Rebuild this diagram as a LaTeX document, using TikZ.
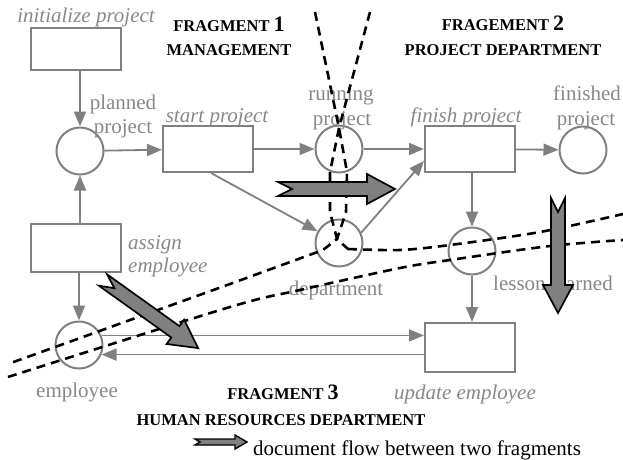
\documentclass[tikz,border=0pt]{standalone}
\usepackage{fontspec}
\setmainfont{Liberation Serif}
\usetikzlibrary{arrows.meta,calc}
\definecolor{linegray}{RGB}{128,128,128}
\definecolor{textgray}{RGB}{136,136,136}
\definecolor{arrowfill}{RGB}{128,128,128}
\newcommand\fragarrow[3]{%
  \begin{scope}[shift={(#1)},rotate=#2]
    \draw[blockarrow] (0,-7) -- (#3-28,-7) -- (#3-28,-15) -- (#3,0) -- (#3-28,15) -- (#3-28,7) -- (0,7) -- (14,0) -- cycle;
  \end{scope}}
\tikzset{
  place/.style={circle,draw=linegray,line width=2pt,minimum size=47pt,inner sep=0pt},
  trans/.style={rectangle,draw=linegray,line width=2pt,minimum width=90pt,inner sep=0pt},
  flow/.style={draw=linegray,line width=1.8pt,-{Triangle[length=15pt,width=12pt]}},
  lbl/.style={text=textgray,inner sep=0pt,anchor=base,font=\fontsize{21}{24}\selectfont},
  ttl/.style={text=black,inner sep=0pt,anchor=base,font=\fontsize{16.5}{18}\selectfont\bfseries},
  fragline/.style={draw=black,line width=2.6pt,dash pattern=on 9pt off 6pt},
  blockarrow/.style={draw=black,line width=1.7pt,fill=arrowfill,line join=miter},
}
\begin{document}
\begin{tikzpicture}[x=1pt,y=-1pt]
\useasboundingbox (0,0) rectangle (623,459);

% transitions
\node[trans,minimum height=42pt] (init) at (76,49) {};
\node[trans,minimum height=46pt] (start) at (208,149) {};
\node[trans,minimum height=46pt] (fin) at (470,149) {};
\node[trans,minimum height=48pt] (asg) at (76,248) {};
\node[trans,minimum height=49pt] (upd) at (470,347.5) {};

% places
\node[place] (plan) at (80,151) {};
\node[place] (run) at (339,149) {};
\node[place] (fdone) at (583,150) {};
\node[place] (dept) at (339,243) {};
\node[place] (les) at (472,251) {};
\node[place] (emp) at (79,345) {};

% labels
\node[lbl] (tinit) at (86,22) {\itshape initialize project};
\node[lbl] (tplan1) at (123,109) {planned};
\node[lbl] (tplan2) at (123,133) {project};
\node[lbl] (tstart) at (217,122) {\itshape start project};
\node[lbl] (trun1) at (341,100) {running};
\node[lbl] (trun2) at (342,125) {project};
\node[lbl] (tfin) at (466,122) {\itshape finish project};
\node[lbl] (tfd1) at (587,100) {finished};
\node[lbl] (tfd2) at (586,125) {project};
\node[lbl,anchor=base west] (tasg1) at (128,249) {\itshape assign};
\node[lbl,anchor=base west] (tasg2) at (128,272) {\itshape employee};
\node[lbl] (tdep) at (336,295) {department};
\node[lbl] (tles) at (553,290) {lesson learned};
\node[lbl] (temp) at (77,397) {employee};
\node[lbl] (tupd) at (465,399) {\itshape update employee};

% titles
\node[ttl] (tfr1) at (229,31) {FRAGMENT {\fontsize{22}{24}\selectfont 1}};
\node[ttl] (tman) at (229,55) {MANAGEMENT};
\node[ttl] (tfr2) at (503,30) {FRAGEMENT {\fontsize{22}{24}\selectfont 2}};
\node[ttl] (tpd) at (503,55) {PROJECT DEPARTMENT};
\node[ttl] (tfr3) at (283,399) {FRAGMENT {\fontsize{22}{24}\selectfont 3}};
\node[ttl] (thr) at (281,425) {HUMAN RESOURCES DEPARTMENT};
\node[lbl,text=black,anchor=base west] (tleg) at (253,455) {document flow between two fragments};

% connectors
\draw[flow] (init.south -| plan) -- (plan.north);
\draw[flow] (asg.north -| plan) -- (plan.south);
\draw[flow] (plan) -- (start);
\draw[flow] (start) -- (run);
\draw[flow] (run) -- (fin);
\draw[flow] (fin) -- (fdone);
\draw[flow] ($(start.south)+(3,0)$) -- (dept);
\draw[flow] (dept.25) -- ($(fin.south west)+(0,-12)$);
\draw[flow] (fin.south -| les) -- (les.north);
\draw[flow] (les.south) -- (les.south |- upd.north);
\draw[flow] (asg.south -| emp) -- (emp.north);
\draw[flow] (emp.23) -- (emp.23 -| upd.west);
\draw[flow] (upd.west |- emp.-23) -- (emp.-23);

% fragment boundaries
\draw[fragline] (315,12) -- (339,128) -- (347,172) -- (346,212) -- (337,239) -- (323,250) -- (230,284) -- (8,364);
\draw[fragline] (370,12) -- (339,128) -- (330,172) -- (330,212) -- (337,239) -- (348,249) plot[smooth] coordinates {(348,249) (400,250) (450,245) (540,232) (623,214)};
\draw[fragline] plot[smooth] coordinates {(8,377) (230,307) (300,290) (400,268) (450,260) (550,246) (623,240)};

% document flow arrows
\fragarrow{278,189}{0}{117}
\fragarrow{558,198}{-90}{115}
\fragarrow{103,280}{-35.6}{117}
\draw[blockarrow,line width=1.4pt] (195,439) -- (235,439) -- (235,435) -- (247,442) -- (235,449) -- (235,445) -- (195,445) -- (200,442) -- cycle;
\end{tikzpicture}
\end{document}
